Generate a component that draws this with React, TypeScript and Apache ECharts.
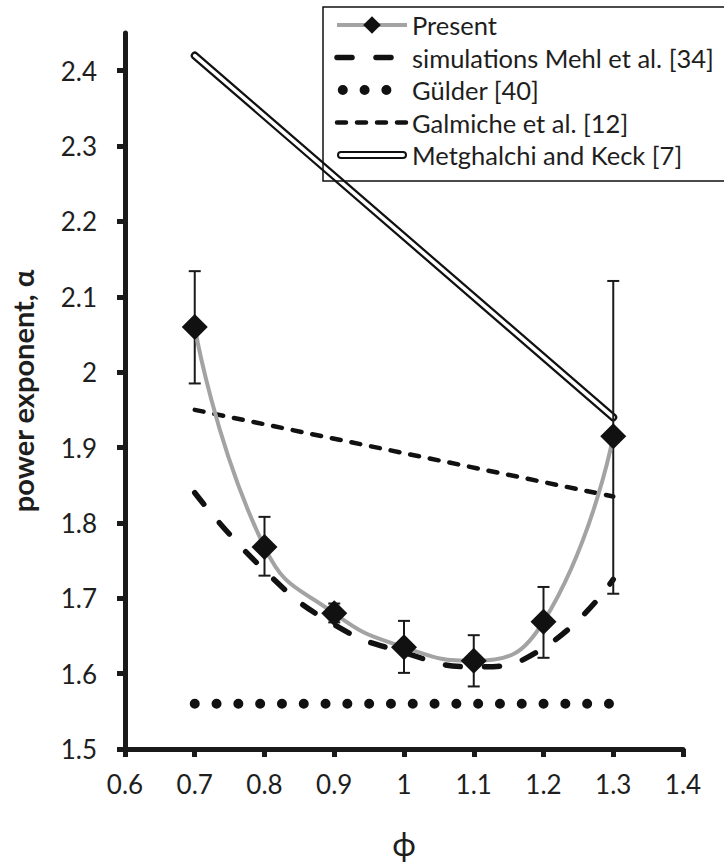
import React, { useEffect, useRef } from "react";
import * as echarts from "echarts";

// ---- data ----
const phi = [0.7, 0.8, 0.9, 1.0, 1.1, 1.2, 1.3];
const presentAlpha = [2.06, 1.768, 1.68, 1.635, 1.617, 1.669, 1.915];
const presentUpper = [2.134, 1.808, 1.693, 1.67, 1.651, 1.715, 2.121];
const presentLower = [1.985, 1.73, 1.668, 1.601, 1.583, 1.621, 1.706];
const mehlAlpha = [1.84, 1.737, 1.665, 1.628, 1.609, 1.634, 1.725];
const gulderPhi = [0.7, 1.3];
const gulderAlpha = [1.56, 1.56];
const galmichePhi = [0.7, 1.3];
const galmicheAlpha = [1.95, 1.835];
const metghalchiPhi = [0.7, 1.3];
const metghalchiAlpha = [2.42, 1.94];

const xTicks = [0.6, 0.7, 0.8, 0.9, 1.0, 1.1, 1.2, 1.3, 1.4];
const yTicks = [1.5, 1.6, 1.7, 1.8, 1.9, 2.0, 2.1, 2.2, 2.3, 2.4];

const seriesNames = [
  "Present",
  "simulations Mehl et al. [34]",
  "Gülder [40]",
  "Galmiche et al. [12]",
  "Metghalchi and Keck [7]",
];

const zip = (xs: number[], ys: number[]) => xs.map((x, i) => [x, ys[i]]);

export default function App() {
  const ref = useRef<HTMLDivElement>(null);
  useEffect(() => {
    if (!ref.current) return;
    const chart = echarts.init(ref.current, null, { renderer: "svg" });
    const font = "Lato, 'Open Sans', sans-serif";
    const txt = "#1e1e1e";
    const ink = "#111";
    const clear = "rgba(0,0,0,0)";
    chart.setOption({
      animation: false,
      backgroundColor: "#fff",
      grid: { left: 115, right: 41, top: 33, bottom: 97 },
      legend: {
        orient: "vertical",
        left: 323,
        top: 7,
        padding: [4, 30, 12, 9],
        borderColor: ink,
        borderWidth: 1.5,
        itemWidth: 70,
        itemHeight: 22,
        itemGap: 4.5,
        selectedMode: false,
        lineStyle: { width: "inherit" },
        textStyle: { fontFamily: font, fontSize: 25.5, color: txt, lineHeight: 28 },
        data: [
          { name: seriesNames[0] },
          { name: seriesNames[1] },
          { name: seriesNames[2], lineStyle: { dashOffset: 15.8 } },
          { name: seriesNames[3] },
          {
            name: seriesNames[4],
            icon: "path://M4,0 H66 A4,4 0 0 1 66,8 H4 A4,4 0 0 1 4,0 Z M4,2 A2,2 0 0 0 4,6 H66 A2,2 0 0 0 66,2 Z",
            itemStyle: { color: ink },
          },
        ],
      },
      xAxis: {
        type: "value",
        min: 0.6,
        max: 1.4,
        interval: 0.1,
        name: "ϕ",
        nameLocation: "middle",
        nameGap: 78,
        nameTextStyle: { fontFamily: font, fontSize: 32, color: txt },
        splitLine: { show: false },
        axisLine: { lineStyle: { color: "#1a1a1a", width: 5 } },
        axisTick: { show: true, length: 8, inside: false, lineStyle: { color: "#1a1a1a", width: 5 }, customValues: xTicks },
        axisLabel: { fontFamily: font, fontSize: 26, color: txt, margin: 22, customValues: xTicks },
      },
      yAxis: {
        type: "value",
        min: 1.5,
        max: 2.45,
        name: "power exponent, α",
        nameLocation: "middle",
        nameGap: 88,
        nameTextStyle: { fontFamily: font, fontSize: 29, fontWeight: "bold", color: txt },
        splitLine: { show: false },
        axisLine: { lineStyle: { color: "#1a1a1a", width: 5 } },
        axisTick: { show: true, length: 8, inside: false, lineStyle: { color: "#1a1a1a", width: 5 }, customValues: yTicks },
        axisLabel: { fontFamily: font, fontSize: 26, color: txt, margin: 28, customValues: yTicks },
      },
      series: [
        {
          name: seriesNames[4],
          type: "line",
          data: zip(metghalchiPhi, metghalchiAlpha),
          symbol: "none",
          itemStyle: { color: ink },
          lineStyle: { color: ink, width: 8, cap: "round" },
          z: 2,
        },
        {
          name: "Metghalchi inner",
          type: "line",
          data: zip(metghalchiPhi, metghalchiAlpha),
          symbol: "none",
          itemStyle: { color: "#fff" },
          lineStyle: { color: "#fff", width: 3.5, cap: "round" },
          z: 3,
        },
        {
          name: seriesNames[3],
          type: "line",
          data: zip(galmichePhi, galmicheAlpha),
          symbol: "none",
          itemStyle: { color: clear },
          lineStyle: { color: ink, width: 4.5, type: [9, 11], cap: "round" },
          z: 3,
        },
        {
          name: seriesNames[2],
          type: "line",
          data: zip(gulderPhi, gulderAlpha),
          symbol: "none",
          itemStyle: { color: clear },
          lineStyle: { color: ink, width: 10, type: [0, 21.8], cap: "round" },
          z: 3,
        },
        {
          name: seriesNames[1],
          type: "line",
          data: zip(phi, mehlAlpha),
          smooth: 0.5,
          symbol: "none",
          itemStyle: { color: clear },
          lineStyle: { color: ink, width: 5.5, type: [15, 24], cap: "round" },
          z: 3,
        },
        {
          name: "errors",
          type: "custom",
          data: phi.map((p, i) => [p, presentUpper[i], presentLower[i]]),
          renderItem: (params: any, api: any) => {
            const x = api.value(0);
            const top = api.coord([x, api.value(1)]);
            const bot = api.coord([x, api.value(2)]);
            const hw = 6;
            const st = { stroke: "#1a1a1a", lineWidth: 2 };
            return {
              type: "group",
              children: [
                { type: "line", shape: { x1: top[0], y1: top[1], x2: bot[0], y2: bot[1] }, style: st },
                { type: "line", shape: { x1: top[0] - hw, y1: top[1], x2: top[0] + hw, y2: top[1] }, style: st },
                { type: "line", shape: { x1: bot[0] - hw, y1: bot[1], x2: bot[0] + hw, y2: bot[1] }, style: st },
              ],
            };
          },
          z: 4,
        },
        {
          name: seriesNames[0],
          type: "line",
          data: zip(phi, presentAlpha),
          smooth: 0.5,
          symbol: "diamond",
          symbolSize: [26, 26],
          itemStyle: { color: ink },
          lineStyle: { color: "#a3a3a3", width: 4 },
          z: 5,
        },
      ],
    });
    return () => chart.dispose();
  }, []);
  return (
    <div
      ref={ref}
      style={{ position: "fixed", left: 0, top: 0, width: 724, height: 864 }}
    />
  );
}
